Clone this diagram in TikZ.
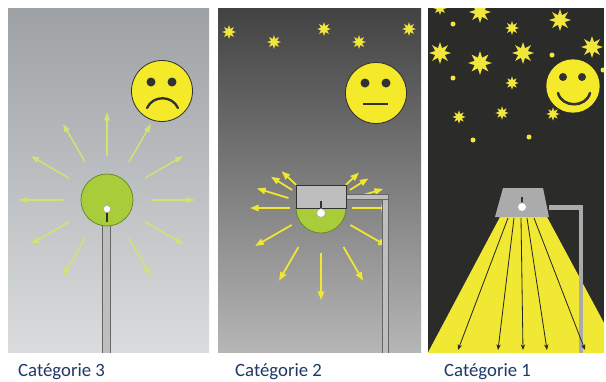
\documentclass[tikz,border=0pt]{standalone}
\usepackage{fontspec}
\setmainfont{Carlito}
\usepackage{xcolor}
\usetikzlibrary{shapes.geometric, arrows.meta, positioning, calc}
\definecolor{cLabel}{RGB}{31,56,100}
\definecolor{cSkyA}{RGB}{158,162,165}
\definecolor{cSkyB}{RGB}{218,220,221}
\definecolor{cDuskA}{RGB}{66,66,66}
\definecolor{cDuskM}{RGB}{112,112,112}
\definecolor{cDuskB}{RGB}{182,182,182}
\definecolor{cNight}{RGB}{43,44,42}
\definecolor{cFace}{RGB}{245,234,42}
\definecolor{cInk}{RGB}{50,50,48}
\definecolor{cGlow}{RGB}{168,204,58}
\definecolor{cGlowDk}{RGB}{100,130,40}
\definecolor{cRayPale}{RGB}{214,226,110}
\definecolor{cRayBright}{RGB}{240,232,48}
\definecolor{cStar}{RGB}{240,230,60}
\definecolor{cMetal}{RGB}{190,190,190}
\definecolor{cBeam}{RGB}{240,232,50}
\tikzset{
	face/.style    ={circle, minimum size=1.83cm, inner sep=0pt, fill=cFace, draw=cInk, line width=0.7pt},
	head/.style    ={circle, minimum size=1.56cm, inner sep=0pt, fill=cGlow, draw=cGlowDk, line width=0.6pt},
	bulb/.style    ={circle, minimum size=0.22cm, inner sep=0pt, fill=white, draw=gray!70},
	starlet/.style ={star, star points=8, star point ratio=2.1, inner sep=0pt, fill=cStar, minimum size=#1},
	pole/.style    ={fill=cMetal, draw=black!60, line width=0.4pt},
	% light rays
	ray3/.style    ={draw=cRayPale, line width=1.2pt, -{Triangle[length=2.5mm, width=1.6mm]}},
	ray2/.style    ={draw=cRayBright, line width=1.5pt, -{Triangle[length=2.6mm, width=1.9mm]}},
	beamray/.style ={draw=black!85, line width=0.7pt, -{Stealth[length=1.7mm, width=1.3mm]}},
	caption/.style ={anchor=base west, text=cLabel, inner sep=0pt},
}

\begin{document}
\begin{tikzpicture}[x=0.03cm, y=-0.03cm, every node/.style={font=\fontsize{16}{19}\selectfont}]
	\useasboundingbox (0,0) rectangle (606,381);
	\clip (0,0) rectangle (606,381);
	\fill[white] (0,0) rectangle (606,381);

	% --- category 3: bare globe, light everywhere
	\begin{scope}
		\clip (8,8) rectangle (209,352);
		\shade[top color=cSkyA, bottom color=cSkyB] (8,8) rectangle (209,352);
		\node[face] (sadface) at (162,91) {};
		\fill[cInk] ($(sadface)+(-11,-9)$) circle (4.5) ($(sadface)+(10,-9)$) circle (4.5);
		\draw[cInk, line width=2pt, line cap=round] (147,108) .. controls (153,95) and (172,95) .. (178,108);
		\coordinate (glow3) at (107,200);
		\foreach \a in {0,30,...,330}
			\draw[ray3] ($(glow3)+(\a:44)$) -- ($(glow3)+(\a:88)$);
		\draw[pole] (102,222) rectangle (110,360);
		\node[head] (lamp3) at (glow3) {};
		\draw[cInk, line width=1pt] (107,211) -- (107,222);
		\node[bulb] (bulb3) at (107,209) {};
	\end{scope}

	% --- category 2: half shielded head
	\begin{scope}
		\clip (218,8) rectangle (421,352);
		\shade[top color=cDuskA, middle color=cDuskM, bottom color=cDuskB] (218,8) rectangle (421,352);
		\foreach \x/\y [count=\i] in {229/32, 274/42, 324/29, 359/42, 409/29}
			\node[starlet=0.42cm] (dusk\i) at (\x,\y) {};
		\node[face] (flatface) at (376,93) {};
		\fill[cInk] ($(flatface)+(-11,-10)$) circle (4.5) ($(flatface)+(10,-10)$) circle (4.5);
		\draw[cInk, line width=2pt] (363,104) -- (388,104);
		\coordinate (glow2) at (321,208);
		% visual angle / start / end
		\foreach \a/\s/\e in {0/31/69, 17/34/65, 32/34/56, 43/34/52, 137/34/54, 148/34/59, 163/34/67,
				180/31/71, 210/34/76, 240/45/84, 270/45/92, 300/45/84, 330/34/76}
			\draw[ray2] ($(glow2)+(-\a:\s)$) -- ($(glow2)+(-\a:\e)$);
		\draw[pole] (382,194) rectangle (388,360);
		\draw[pole] (345,194) rectangle (388,199);
		\draw[fill=cGlow, draw=cGlowDk, line width=0.6pt] (296,208) arc[start angle=180, end angle=0, radius=25] -- cycle;
		\draw[fill=cMetal, draw=cInk, line width=0.6pt] (296,185) rectangle (346,208);
		\draw[cInk, line width=1.4pt] (321,201) -- (321,210);
		\node[bulb, minimum size=0.26cm] (bulb2) at (321,213) {};
	\end{scope}

	% --- category 1: full cut-off head
	\begin{scope}
		\clip (428,8) rectangle (604,352);
		\fill[cNight] (428,8) rectangle (604,352);
		\foreach \x/\y/\d [count=\i] in {440/8/0.42cm, 480/12/0.66cm, 512/28/0.42cm, 560/20/0.66cm,
				440/53/0.66cm, 480/63/0.72cm, 523/53/0.66cm, 592/47/0.66cm, 512/83/0.4cm,
				459/117/0.4cm, 502/113/0.4cm, 553/114/0.4cm}
			\node[starlet=\d] (night\i) at (\x,\y) {};
		\foreach \x/\y in {453/24, 552/55, 453/78, 603/70, 473/140, 529/137}
			\fill[cStar] (\x,\y) circle (2.5);
		\node[face, draw=none, minimum size=1.6cm] (happyface) at (573,86) {};
		\fill[cInk] ($(happyface)+(-10,-9)$) circle (4) ($(happyface)+(9,-9)$) circle (4);
		\draw[cInk, line width=2.2pt, line cap=round] (558,93) .. controls (562,108) and (586,108) .. (590,93);
		% light cone on the ground
		\fill[cBeam] (500,217) -- (547,217) -- (624,360) -- (424,360) -- cycle;
		\fill[cMetal!90!black] (579,206) rectangle (583,360);
		\fill[cMetal!90!black] (549,205) rectangle (583,210);
		\foreach \t/\b in {508/458, 514/498, 521/523, 527/547, 534/585}
			\draw[beamray] (\t,218) -- (\b,350);
		\fill[cMetal!90!black] (503,188) -- (543,188) -- (549,217) -- (495,217) -- cycle;
		\draw[cInk, line width=1.4pt] (522,197) -- (522,204);
		\node[bulb, minimum size=0.26cm] (bulb1) at (522,207) {};
	\end{scope}

	% captions
	\node[caption] (cat3) at (18,376) {Catégorie 3};
	\node[caption] (cat2) at (235,376) {Catégorie 2};
	\node[caption] (cat1) at (444,376) {Catégorie 1};
\end{tikzpicture}
\end{document}
